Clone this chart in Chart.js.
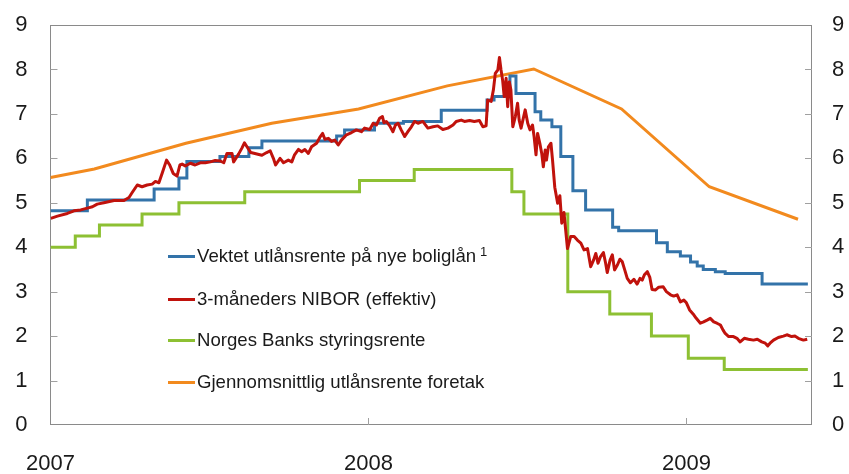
<!DOCTYPE html>
<html>
<head>
<meta charset="utf-8">
<script src="https://cdn.jsdelivr.net/npm/chart.js@4.4.1/dist/chart.umd.min.js"></script>
<style>
  body { margin: 0; background: #fff; }
  #wrap { position: relative; width: 849px; height: 474px; }
  #legend { position: absolute; left: 168px; top: 0; font: 18.6px "Liberation Sans", Arial, sans-serif; color: #1a1a1a; }
  .item { position: absolute; left: 0; height: 24px; display: flex; align-items: center; white-space: nowrap; }
  .swatch { width: 27px; height: 3px; margin-right: 2px; }
  .item sup { font-size: 13px; position: relative; top: -5px; margin-left: 4px; }
</style>
</head>
<body>
<div id="wrap">
  <canvas id="c" width="849" height="474"></canvas>
  <div id="legend"></div>
</div>
<script>
// x values are years counted from the start of 2007
const startYear = 2007;
const xTickYears = [2007, 2008, 2009];

// Vektet utlånsrente på nye boliglån (step)
const mortgageT = [0, 0.116, 0.326, 0.404, 0.429, 0.533, 0.624, 0.665, 0.900, 0.925, 1.019, 1.110, 1.229, 1.373, 1.395, 1.445, 1.464, 1.524, 1.542, 1.577, 1.605, 1.643, 1.683, 1.768, 1.787, 1.906, 1.940, 1.981, 2.013, 2.034, 2.053, 2.091, 2.122, 2.238, 2.382];
const mortgageV = [4.82, 5.06, 5.31, 5.56, 5.93, 6.04, 6.24, 6.39, 6.50, 6.64, 6.79, 6.83, 7.08, 7.31, 7.39, 7.85, 7.46, 7.05, 6.86, 6.71, 6.04, 5.27, 4.84, 4.45, 4.37, 4.10, 3.90, 3.80, 3.67, 3.58, 3.50, 3.45, 3.41, 3.17, 3.17];

// 3-måneders NIBOR (effektiv)
const niborT = [0.001, 0.022, 0.053, 0.074, 0.095, 0.116, 0.132, 0.147, 0.168, 0.200, 0.231, 0.247, 0.257, 0.273, 0.288, 0.304, 0.320, 0.330, 0.341, 0.351,
  0.365, 0.375, 0.386, 0.398, 0.407, 0.414, 0.424, 0.440, 0.455, 0.471, 0.487, 0.503, 0.518, 0.534, 0.545, 0.555, 0.571, 0.576, 0.592, 0.602,
  0.610, 0.618, 0.630, 0.665, 0.680, 0.691, 0.701, 0.708, 0.722, 0.733, 0.748, 0.759, 0.767, 0.780, 0.790, 0.800, 0.811, 0.821, 0.837, 0.847,
  0.856, 0.863, 0.874, 0.884, 0.894, 0.905, 0.915, 0.931, 0.947, 0.962, 0.978, 0.988, 1.004, 1.015, 1.025, 1.035, 1.044, 1.049, 1.056, 1.067,
  1.077, 1.085, 1.093, 1.103, 1.114, 1.124, 1.135, 1.145, 1.156, 1.171, 1.187, 1.203, 1.218, 1.234, 1.250, 1.266, 1.276, 1.292, 1.302, 1.318,
  1.333, 1.349, 1.360, 1.370, 1.375, 1.386, 1.393, 1.399, 1.407, 1.412, 1.417, 1.422, 1.427, 1.433, 1.438, 1.443, 1.448, 1.454, 1.462, 1.469,
  1.474, 1.480, 1.487, 1.493, 1.501, 1.508, 1.516, 1.521, 1.527, 1.532, 1.539, 1.545, 1.550, 1.556, 1.560, 1.566, 1.574, 1.579, 1.586, 1.595,
  1.602, 1.608, 1.615, 1.626, 1.636, 1.647, 1.657, 1.668, 1.678, 1.689, 1.699, 1.708, 1.715, 1.722, 1.730, 1.739, 1.746, 1.751, 1.760, 1.767,
  1.774, 1.783, 1.791, 1.798, 1.806, 1.814, 1.824, 1.835, 1.845, 1.854, 1.861, 1.868, 1.877, 1.885, 1.892, 1.903, 1.913, 1.927, 1.937, 1.950,
  1.960, 1.971, 1.981, 1.992, 2.000, 2.010, 2.021, 2.031, 2.044, 2.054, 2.065, 2.075, 2.086, 2.096, 2.107, 2.115, 2.122, 2.133, 2.148, 2.159,
  2.169, 2.182, 2.195, 2.211, 2.223, 2.237, 2.248, 2.256, 2.263, 2.274, 2.289, 2.305, 2.316, 2.331, 2.342, 2.352, 2.368, 2.380];
const niborV = [4.65, 4.70, 4.76, 4.82, 4.84, 4.88, 4.91, 4.97, 5.00, 5.05, 5.05, 5.12, 5.23, 5.40, 5.36, 5.40, 5.42, 5.48, 5.45, 5.66,
  5.96, 5.85, 5.66, 5.60, 5.85, 5.87, 5.83, 5.89, 5.85, 5.90, 5.90, 5.92, 5.95, 5.94, 5.90, 6.11, 6.11, 5.92, 6.10, 6.23,
  6.35, 6.26, 6.13, 6.07, 6.13, 6.17, 6.00, 5.85, 6.00, 5.90, 5.96, 5.92, 6.07, 6.20, 6.15, 6.20, 6.11, 6.26, 6.34, 6.47,
  6.56, 6.43, 6.45, 6.38, 6.41, 6.30, 6.41, 6.53, 6.58, 6.64, 6.60, 6.68, 6.65, 6.79, 6.75, 6.90, 6.94, 6.80, 6.83, 6.73,
  6.60, 6.75, 6.79, 6.64, 6.49, 6.60, 6.71, 6.83, 6.79, 6.83, 6.68, 6.71, 6.73, 6.65, 6.68, 6.75, 6.83, 6.86, 6.83, 6.85,
  6.83, 6.85, 6.71, 6.73, 7.31, 7.28, 7.54, 7.91, 7.99, 8.27, 7.99, 7.76, 7.39, 7.80, 7.16, 7.72, 7.54, 6.71, 6.94, 7.24,
  6.86, 6.68, 6.90, 7.09, 6.79, 6.64, 6.75, 6.49, 6.08, 6.56, 6.34, 6.11, 5.81, 6.19, 5.96, 6.26, 6.34, 5.96, 5.35, 4.99,
  5.16, 4.54, 4.78, 3.97, 4.24, 4.24, 4.16, 4.09, 3.94, 3.97, 3.56, 3.71, 3.86, 3.64, 3.79, 3.88, 3.64, 3.43, 3.71, 3.83,
  3.49, 3.60, 3.73, 3.68, 3.49, 3.30, 3.20, 3.28, 3.17, 3.30, 3.26, 3.38, 3.45, 3.32, 3.05, 3.04, 3.10, 3.11, 3.00, 2.93,
  2.90, 2.93, 2.77, 2.81, 2.75, 2.59, 2.50, 2.40, 2.29, 2.32, 2.36, 2.40, 2.32, 2.29, 2.25, 2.14, 2.06, 1.99, 1.99, 1.95,
  1.87, 1.95, 1.93, 1.91, 1.93, 1.87, 1.84, 1.78, 1.84, 1.91, 1.97, 2.00, 2.03, 1.99, 2.00, 1.95, 1.91, 1.93];

// Norges Banks styringsrente (step)
const policyT = [0, 0.078, 0.154, 0.288, 0.404, 0.611, 0.972, 1.144, 1.451, 1.489, 1.627, 1.759, 1.890, 2.006, 2.119, 2.382];
const policyV = [4.00, 4.25, 4.50, 4.75, 5.00, 5.25, 5.50, 5.75, 5.25, 4.75, 3.00, 2.50, 2.00, 1.50, 1.25, 1.25];

// Gjennomsnittlig utlånsrente foretak (quarterly)
const firmsT = [0, 0.138, 0.426, 0.696, 0.969, 1.248, 1.520, 1.796, 2.072, 2.351];
const firmsV = [5.57, 5.76, 6.34, 6.79, 7.11, 7.63, 8.01, 7.11, 5.36, 4.63];

const toPoints = (t, v) => t.map((d, i) => ({ x: startYear + d, y: v[i] }));

const FONT = '"Liberation Sans", Arial, sans-serif';
const TEXT = '#1a1a1a';
const AXIS = '#8a8a8a';

const datasets = [
  { label: 'Vektet utlånsrente på nye boliglån', sup: '1', data: toPoints(mortgageT, mortgageV), borderColor: '#3373a9', stepped: true, order: 1 },
  { label: '3-måneders NIBOR (effektiv)', data: toPoints(niborT, niborV), borderColor: '#c0120c', borderJoinStyle: 'round', order: 0 },
  { label: 'Norges Banks styringsrente', data: toPoints(policyT, policyV), borderColor: '#8dc033', stepped: true, order: 2 },
  { label: 'Gjennomsnittlig utlånsrente foretak', data: toPoints(firmsT, firmsV), borderColor: '#f28a1e', order: 3 }
];
datasets.forEach(d => { d.borderWidth = 3; d.pointRadius = 0; d.fill = false; });

// box round the plot and short inner tick marks
const frame = {
  id: 'frame',
  beforeDatasetsDraw(chart) {
    const { ctx, chartArea: a, scales: { x, y } } = chart;
    ctx.save();
    ctx.strokeStyle = AXIS;
    ctx.lineWidth = 1;
    ctx.strokeRect(Math.round(a.left) + 0.5, Math.round(a.top) + 0.5, Math.round(a.width) - 1, Math.round(a.height) - 1);
    ctx.strokeStyle = '#a0a0a0';
    ctx.beginPath();
    for (let v = 1; v < 9; v++) {
      const py = Math.round(y.getPixelForValue(v)) + 0.5;
      ctx.moveTo(a.left, py); ctx.lineTo(a.left + 7, py);
      ctx.moveTo(a.right - 7, py); ctx.lineTo(a.right, py);
    }
    xTickYears.slice(1).forEach(yr => {
      const px = Math.round(x.getPixelForValue(yr)) + 0.5;
      ctx.moveTo(px, a.bottom); ctx.lineTo(px, a.bottom - 7);
    });
    ctx.stroke();
    ctx.restore();
  }
};

// chart.js adds the tick padding to the axis top padding, so reset it
const yAxis = (position, pad, width) => ({
  position, min: 0, max: 9,
  ticks: { stepSize: 1, padding: pad, color: TEXT, font: { family: FONT, size: 22 } },
  grid: { display: false, drawTicks: false },
  border: { display: false },
  afterFit: s => { s.width = width; s.paddingTop = 0; s.paddingBottom = 0; }
});

new Chart(document.getElementById('c'), {
  type: 'line',
  data: { datasets },
  options: {
    responsive: false,
    animation: false,
    layout: { padding: { top: 25 } },
    plugins: { legend: { display: false }, tooltip: { enabled: false } },
    scales: {
      x: {
        type: 'linear', min: 2007, max: 2009.395,
        afterBuildTicks: s => { s.ticks = xTickYears.map(v => ({ value: v })); },
        ticks: { autoSkip: false, maxRotation: 0, padding: 26, color: TEXT, font: { family: FONT, size: 22 }, callback: v => String(v) },
        grid: { display: false, drawTicks: false },
        border: { display: false },
        afterFit: s => { s.height = 49; }
      },
      y: yAxis('left', 23, 48),
      y2: yAxis('right', 20, 37)
    }
  },
  plugins: [frame]
});

// legend inside the plot, built from the datasets
const legendTop = [256, 299, 340, 382];
document.getElementById('legend').innerHTML = datasets.map((d, i) =>
  `<div class="item" style="top:${legendTop[i] - 12}px"><span class="swatch" style="background:${d.borderColor}"></span>${d.label}${d.sup ? `<sup>${d.sup}</sup>` : ''}</div>`
).join('');
</script>
</body>
</html>
